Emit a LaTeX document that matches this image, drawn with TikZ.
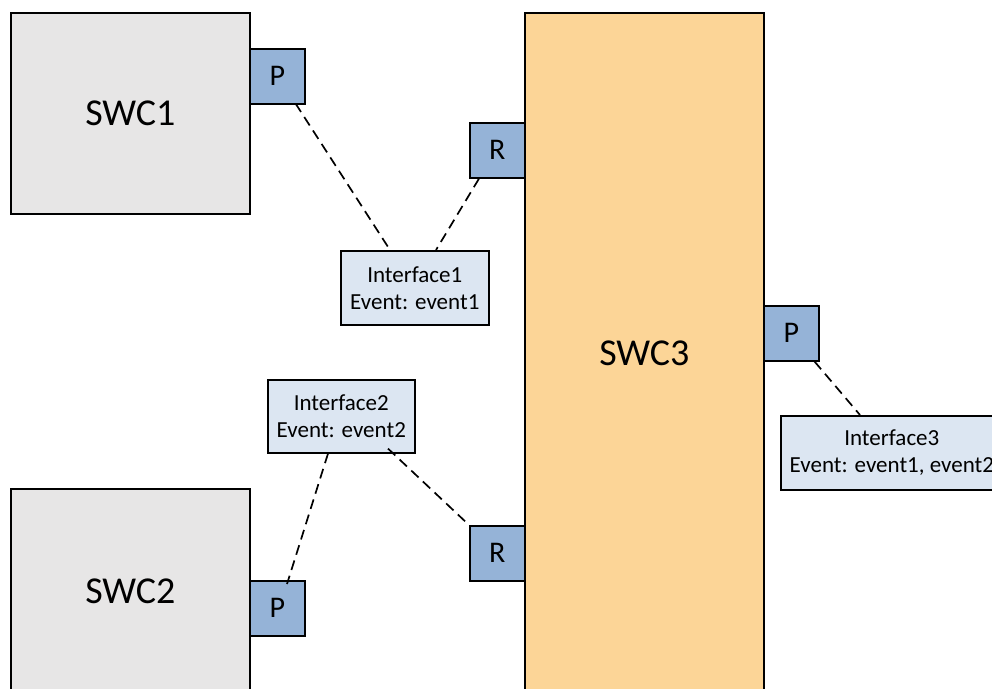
\documentclass[tikz,border=0pt]{standalone}
\usepackage{fontspec}
\setmainfont{Carlito}
\usetikzlibrary{calc}
\definecolor{swcgray}{HTML}{E7E6E6}
\definecolor{swcorange}{HTML}{FCD597}
\definecolor{portblue}{HTML}{95B3D7}
\definecolor{ifblue}{HTML}{DCE6F2}
\begin{document}
\begin{tikzpicture}[x=1pt,y=-1pt,
  swcbox/.style={draw=black, line width=1.6pt, anchor=north west, inner sep=0pt, font=\fontsize{38}{44}\selectfont},
  portbox/.style={draw=black, line width=1.6pt, fill=portblue, anchor=north west, inner sep=0pt,
    minimum width=55pt, minimum height=55pt, font=\fontsize{30}{34}\selectfont},
  ifbox/.style={draw=black, line width=1.6pt, fill=ifblue, anchor=north west, inner sep=0pt,
    align=center, font=\fontsize{23}{27}\selectfont},
  link/.style={draw=black, line width=1.7pt, dash pattern=on 10pt off 6pt}]
\useasboundingbox (0,0) rectangle (992,688);
% components
\node[swcbox, fill=swcgray, minimum width=239pt, minimum height=201pt] (swc1) at (10,12) {SWC1};
\node[swcbox, fill=swcgray, minimum width=239pt, minimum height=204pt] (swc2) at (10,488) {SWC2};
\node[swcbox, fill=swcorange, minimum width=239pt, minimum height=680pt] (swc3) at (524,12) {SWC3};
% ports
\node[portbox] (p1) at (249,48) {P};
\node[portbox] (r1) at (469,122) {R};
\node[portbox] (p3) at (763,305) {P};
\node[portbox] (r2) at (469,525) {R};
\node[portbox] (p2) at (249,580) {P};
% interfaces
\node[ifbox, minimum width=148pt, minimum height=74pt] (if1) at (340,250) {Interface1\\Event: event1};
\node[ifbox, minimum width=147pt, minimum height=73pt] (if2) at (267,379) {Interface2\\Event: event2};
\node[ifbox, minimum width=222pt, minimum height=74pt] (if3) at (780,415) {Interface3\\Event: event1, event2};
% connectors
\draw[link] ([xshift=-10pt,yshift=1pt]p1.south east) -- ([xshift=50pt]if1.north west);
\draw[link] ([xshift=10pt]r1.south west) -- ([xshift=96pt]if1.north west);
\draw[link] ([xshift=61pt]if2.south west) -- ([xshift=38pt,yshift=-4pt]p2.north west);
\draw[link] ([xshift=121pt,yshift=5pt]if2.south west) -- (r2.north west);
\draw[link] ([xshift=-5pt]p3.south east) -- ([xshift=80pt]if3.north west);
\end{tikzpicture}
\end{document}
